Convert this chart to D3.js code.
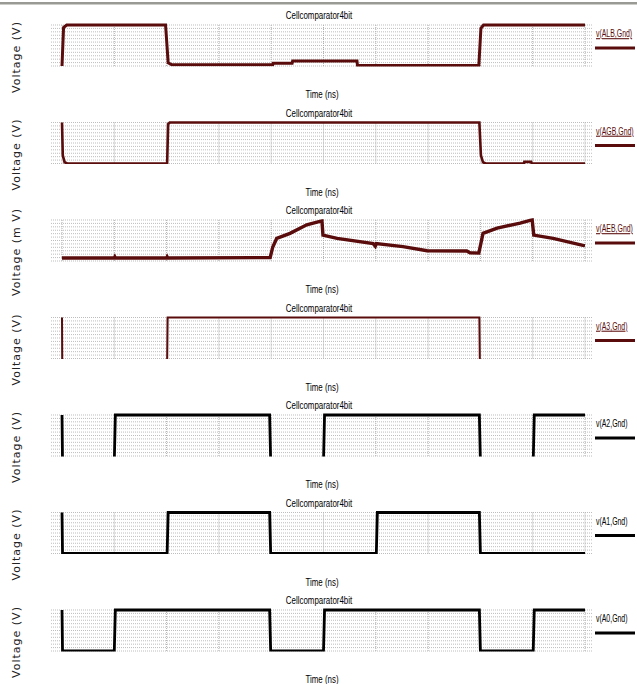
<!DOCTYPE html>
<html><head><meta charset="utf-8">
<script src="https://cdn.jsdelivr.net/npm/d3@7"></script>
<style>body{margin:0;background:#fff;} svg{display:block}</style>
</head><body><svg id="c" width="637" height="684"></svg>
<script>
// ---- data ----
const panelTitles = ["Cellcomparator4bit","Cellcomparator4bit","Cellcomparator4bit","Cellcomparator4bit","Cellcomparator4bit","Cellcomparator4bit","Cellcomparator4bit"];
const signalNames = ["v(ALB,Gnd)","v(AGB,Gnd)","v(AEB,Gnd)","v(A3,Gnd)","v(A2,Gnd)","v(A1,Gnd)","v(A0,Gnd)"];
const yAxisLabels = ["Voltage (V)","Voltage (V)","Voltage (m V)","Voltage (V)","Voltage (V)","Voltage (V)","Voltage (V)"];
const xAxisLabel = "Time (ns)";
const timeExtent = [0, 100];
const timeTicks = [0,10,20,30,40,50,60,70,80,90,100];
const yExtents = [[0,5],[0,5],[0,40],[0.6,5],[0.6,5],[0,5],[0,5]];

const albWave = [[0,0],[0.3,4.7],[0.9,5],[19.8,5],[20.3,0.4],[21,0.15],[40.3,0.15],[40.4,0.35],[44,0.35],[44.1,0.6],[56.4,0.6],[56.5,0.05],[79.7,0.05],[80.1,4.6],[80.6,5],[100,5]];
const agbWave = [[0,5],[0.15,1],[0.5,0.15],[1,0],[20.1,0],[20.3,4.8],[20.6,5],[79.8,5],[80.1,1],[80.5,0.15],[81,0],[88.3,0],[88.4,0.2],[89.7,0.2],[89.8,0],[100,0]];
const aebWave = [[0,3],[10,3],[10.1,4],[10.2,3],[20,3],[20.1,4],[20.2,3],[39.8,3.3],[40.3,13.7],[41.05,22],[43.6,27],[46.8,35.3],[49.3,38.7],[49.7,39],[49.9,25.3],[52.6,22],[59.5,17],[59.9,14.5],[60.1,17],[65.2,14],[69.8,10],[77.4,9.7],[78,8],[79.7,7.7],[80.5,27],[83.2,32],[87.6,37],[89.5,39.7],[89.9,40],[90.2,25.3],[93.9,22],[99.6,15.3],[100,15]];
const a3Wave = [[0,5],[0.05,0],[20.1,0],[20.2,5],[79.8,5],[79.9,0],[100,0]];
const a2Wave = [[0,5],[0.1,0],[10.0,0],[10.2,5],[39.7,5],[39.9,0],[50,0],[50.2,5],[79.8,5],[80,0],[90.1,0],[90.3,5],[100,5]];
const a1Wave = [[0,5],[0.1,0],[20.1,0],[20.3,5],[39.7,5],[39.9,0],[60.1,0],[60.3,5],[79.8,5],[80,0],[100,0]];
const a0Wave = [[0,5],[0.1,0],[10.0,0],[10.2,5],[39.7,5],[39.9,0],[50,0],[50.2,5],[79.8,5],[80,0],[90.1,0],[90.3,5],[100,5]];
const waves = [albWave, agbWave, aebWave, a3Wave, a2Wave, a1Wave, a0Wave];

// ---- style ----
const MAROON = "#5a0c0c";
const colors = [MAROON, MAROON, MAROON, MAROON, "#000", "#000", "#000"];
const widths = [3, 2.6, 3.4, 2, 2.8, 2.8, 2.8];
const sans = "'Liberation Sans','Arial',sans-serif";

const svg = d3.select("#c");
svg.append("rect").attr("x",0).attr("y",2).attr("width",637).attr("height",2.5).attr("fill","#9a9a94");

const x = d3.scaleLinear().domain(timeExtent).range([62, 585]);
const gridL = 51, gridR = 592;

// narrow text helper: horizontally condensed via transform
function narrowText(g, str, cx, cy, size, sx, anchor, fill, underline) {
  return g.append("text")
    .attr("transform", `translate(${cx},${cy}) scale(${sx},1)`)
    .attr("text-anchor", anchor).attr("font-family", sans).attr("font-size", size)
    .attr("text-decoration", underline ? "underline" : "none")
    .attr("fill", fill).text(str);
}

waves.forEach((wave, i) => {
  const t0 = 15 + 97.5 * i;
  const top = t0 + 10, bottom = t0 + 51;
  const g = svg.append("g");
  const y = d3.scaleLinear().domain(yExtents[i]).range([bottom, top]);

  // grid rows
  const rows = d3.range(13).map(k => top + k * (bottom - top) / 12);
  g.selectAll("line.row").data(rows).join("line")
    .attr("x1", gridL).attr("x2", gridR).attr("y1", d => d).attr("y2", d => d)
    .attr("stroke", "#bdbdbd").attr("stroke-width", 1).attr("stroke-dasharray", "1,1");
  g.selectAll("line.col").data(timeTicks).join("line")
    .attr("x1", d => x(d)).attr("x2", d => x(d)).attr("y1", top).attr("y2", bottom)
    .attr("stroke", "#b0b0b0").attr("stroke-width", 1).attr("stroke-dasharray", "1,1");

  // clip
  const cid = "clip" + i;
  svg.append("clipPath").attr("id", cid).append("rect")
    .attr("x", gridL).attr("y", top - 3).attr("width", gridR - gridL).attr("height", bottom - top + 3.5);

  g.append("path").datum(wave)
    .attr("clip-path", `url(#${cid})`)
    .attr("fill", "none").attr("stroke", colors[i]).attr("stroke-width", widths[i])
    .attr("stroke-linejoin", "miter")
    .attr("d", d3.line().x(d => x(d[0])).y(d => y(d[1])));

  // title
  narrowText(g, panelTitles[i], 319, t0 + 4, 11, 0.72, "middle", "#000", false);
  // x label
  narrowText(g, xAxisLabel, 322, t0 + 83, 11, 0.72, "middle", "#000", false);

  // y label
  g.append("text").attr("transform", `translate(20,${t0 + 42}) rotate(-90)`)
    .attr("text-anchor", "middle").attr("font-family", "'DejaVu Sans',sans-serif").attr("font-size", 11)
    .attr("letter-spacing", 1).attr("fill", "#222").text(yAxisLabels[i]);

  // legend
  narrowText(g, signalNames[i], 596, t0 + 22, 10.5, 0.66, "start", colors[i], i < 4);
  g.append("line").attr("x1", 595).attr("x2", 635).attr("y1", t0 + 33).attr("y2", t0 + 33)
    .attr("stroke", colors[i]).attr("stroke-width", 3);
});
</script>
</body></html>
